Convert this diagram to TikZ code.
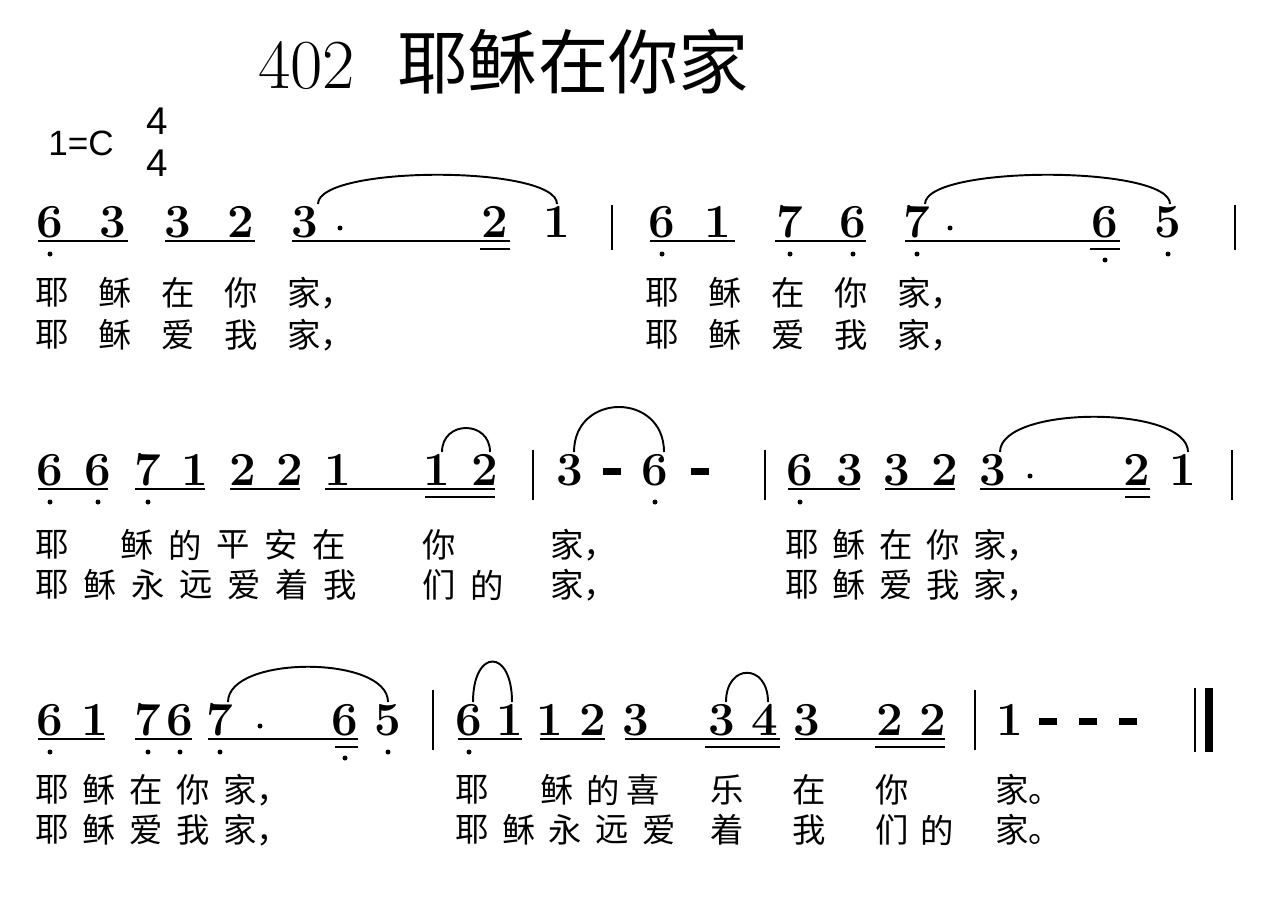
\documentclass[tikz,border=0pt]{standalone}
\usepackage{fontspec}
\newfontfamily\cjk{Noto Sans CJK SC}
\setsansfont{Liberation Sans}
\tikzset{
  nt/.style={font=\fontsize{27}{27}\selectfont\bfseries, inner sep=0pt},
  ly/.style={font=\cjk\fontsize{19}{19}\selectfont, inner sep=0pt, anchor=west},
  beam/.style={line width=1.3pt},
  tie/.style={line width=1.1pt},
  bar/.style={line width=0.8pt}
}
% note, low dot
\newcommand{\nn}[3]{\node[nt] at (#1,#2) {#3};}
\newcommand{\ld}[2]{\fill (#1,#2+32) circle (2.5);}
\newcommand{\bm}[3]{\draw[beam] (#1,#3+19) -- (#2,#3+19);}
\newcommand{\bb}[3]{\draw[beam] (#1,#3+27) -- (#2,#3+27);}
\newcommand{\ti}[4]{\draw[tie] (#1,#3-18) .. controls (#1,#4) and (#2,#4) .. (#2,#3-18);}
\begin{document}
\begin{tikzpicture}[x=0.02cm,y=-0.02cm]
\useasboundingbox (0,0) rectangle (1280,903);
% title
\node[inner sep=0pt, anchor=west, font=\fontsize{40}{40}\selectfont] at (258,62) {402\ \ {\cjk 耶稣在你家}};
\node[inner sep=0pt, anchor=west, font=\sffamily\fontsize{20}{20}\selectfont] at (48,143) {1=C};
\node[inner sep=0pt, font=\sffamily\fontsize{22}{22}\selectfont] at (157,121) {4};
\node[inner sep=0pt, font=\sffamily\fontsize{22}{22}\selectfont] at (157,163) {4};
% line 1
\foreach \x/\d in {50/6,113/3,178/3,241/2,305/3,495/2,557/1,662/6,718/1,790/7,853/6,917/7,1105/6,1168/5} {\nn{\x}{222}{\d}}
\fill (340,228) circle (2.5); \fill (950,228) circle (2.5);
\foreach \x in {50,662,790,853,917,1168} {\ld{\x}{222}}
\fill (1105,260) circle (2.5);
\bm{38}{128}{222} \bm{165}{255}{222} \bm{292}{510}{222} \bb{480}{510}{222}
\bm{650}{735}{222} \bm{775}{866}{222} \bm{905}{1120}{222} \bb{1090}{1120}{222}
\ti{318}{557}{222}{165} \ti{925}{1170}{222}{165}
\draw[bar] (612,205) -- (612,250); \draw[bar] (1235,205) -- (1235,250);
\foreach \x/\c in {35/耶,98/稣,161/在,224/你,287/家，,645/耶,708/稣,771/在,834/你,897/家，} {\node[ly] at (\x,293) {\c};}
\foreach \x/\c in {35/耶,98/稣,161/爱,224/我,287/家，,645/耶,708/稣,771/爱,834/我,897/家，} {\node[ly] at (\x,335) {\c};}
% line 2
\foreach \x/\d in {50/6,98/6,148/7,195/1,243/2,290/2,338/1,437/1,485/2,570/3,655/6,800/6,850/3,897/3,945/2,993/3,1137/2,1183/1} {\nn{\x}{470}{\d}}
\foreach \x in {612,700} {\fill (\x-9,468) rectangle (\x+9,475);}
\fill (1030,476) circle (2.5);
\foreach \x in {50,98,148,655,800} {\ld{\x}{470}}
\bm{38}{108}{470} \bm{135}{205}{470} \bm{230}{300}{470} \bm{325}{495}{470} \bb{425}{495}{470}
\bm{788}{860}{470} \bm{885}{955}{470} \bm{980}{1150}{470} \bb{1125}{1150}{470}
\ti{442}{490}{470}{420} \ti{574}{664}{470}{392} \ti{1000}{1188}{470}{405}
\draw[bar] (533,450) -- (533,500); \draw[bar] (765,450) -- (765,500); \draw[bar] (1232,450) -- (1232,500);
\foreach \x/\c in {35/耶,120/稣,168/的,216/平,264/安,312/在,422/你,550/家，,785/耶,832/稣,879/在,926/你,973/家，} {\node[ly] at (\x,545) {\c};}
\foreach \x/\c in {35/耶,83/稣,131/永,179/远,227/爱,275/着,323/我,422/们,470/的,550/家，,785/耶,832/稣,879/爱,926/我,973/家，} {\node[ly] at (\x,585) {\c};}
% line 3
\foreach \x/\d in {50/6,95/1,148/7,180/6,220/7,345/6,388/5,469/6,510/1,550/1,593/2,636/3,722/3,765/4,807/3,890/2,933/2,1010/1} {\nn{\x}{720}{\d}}
\fill (260,726) circle (2.5);
\foreach \x in {1048,1088,1128} {\fill (\x-9,718) rectangle (\x+9,725);}
\foreach \x in {50,148,180,220,388,469} {\ld{\x}{720}}
\fill (345,758) circle (2.5);
\bm{38}{105}{720} \bm{135}{192}{720} \bm{208}{358}{720} \bb{335}{358}{720}
\bm{458}{522}{720} \bm{540}{605}{720} \bm{625}{780}{720} \bb{705}{780}{720}
\bm{795}{945}{720} \bb{875}{945}{720}
\ti{228}{388}{720}{655} \ti{473}{512}{720}{648} \ti{726}{768}{720}{663}
\draw[bar] (433,690) -- (433,750); \draw[bar] (975,690) -- (975,750);
\draw[bar] (1195,688) -- (1195,752); \fill (1205,688) rectangle (1213,752);
\foreach \x/\c in {35/耶,82/稣,129/在,176/你,223/家，,455/耶,540/稣,586/的,626/喜,710/乐,792/在,875/你,995/家。} {\node[ly] at (\x,790) {\c};}
\foreach \x/\c in {35/耶,82/稣,129/爱,176/我,223/家，,455/耶,502/稣,548/永,595/远,642/爱,710/着,792/我,875/们,920/的,995/家。} {\node[ly] at (\x,830) {\c};}
\end{tikzpicture}
\end{document}
